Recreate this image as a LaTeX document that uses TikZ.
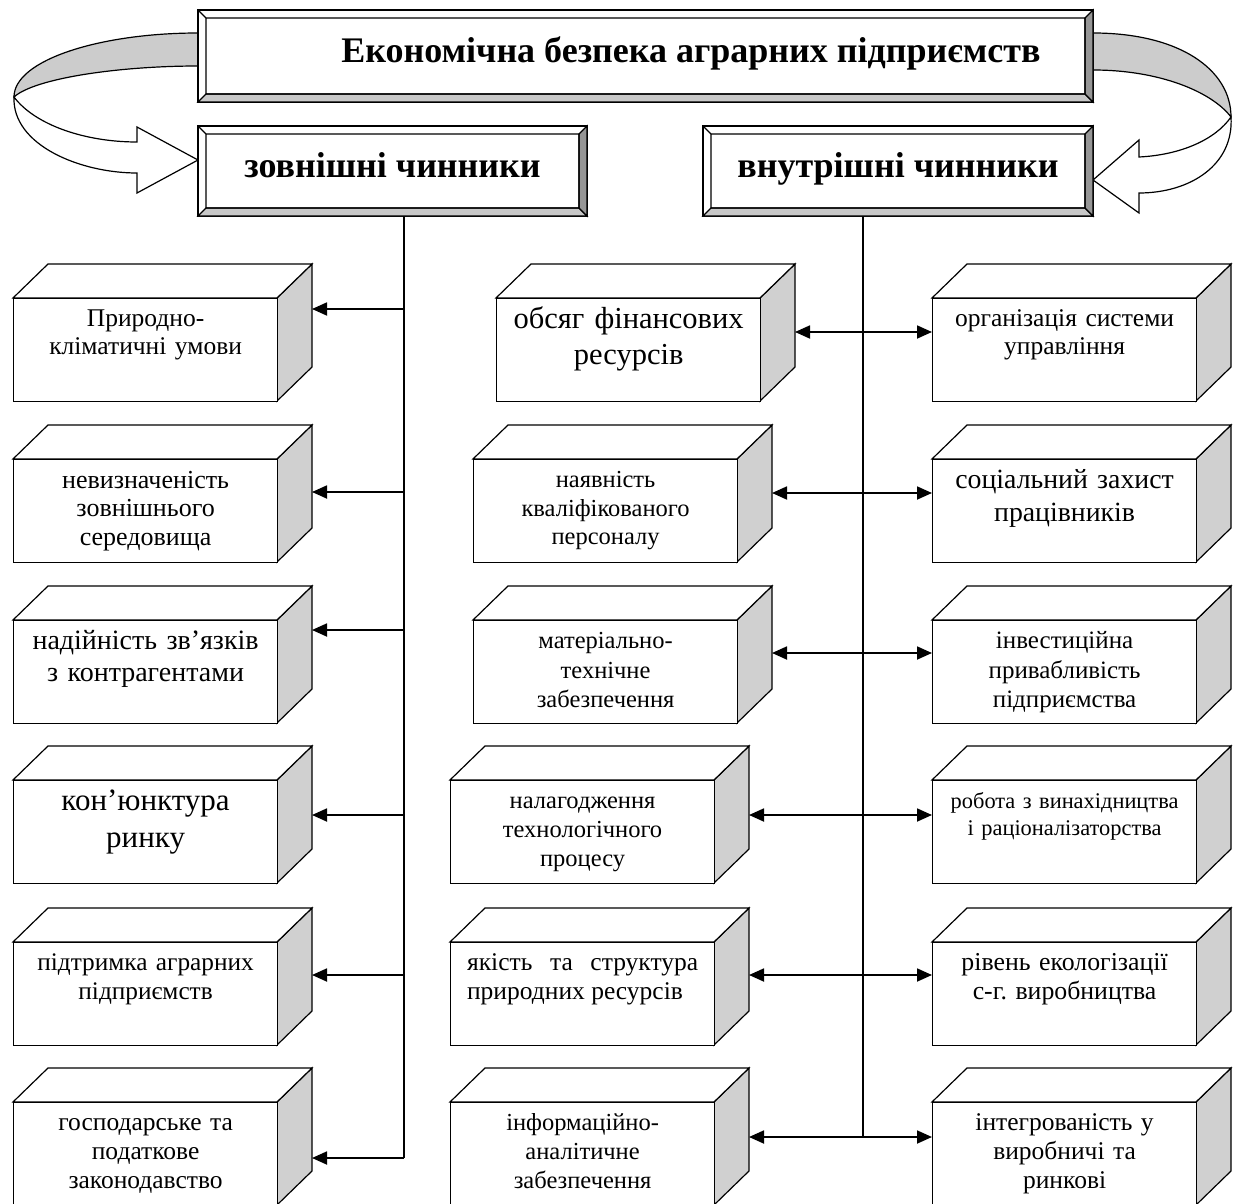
\documentclass[tikz,border=0pt]{standalone}
\usepackage{fontspec}
\setmainfont{Liberation Serif}
\usetikzlibrary{positioning,arrows.meta,calc}
\definecolor{facegray}{RGB}{208,208,208}
\definecolor{bevellight}{RGB}{200,200,200}
\definecolor{beveldark}{RGB}{150,150,150}
\definecolor{ribbongray}{RGB}{204,204,204}
\frenchspacing

\tikzset{
  frame/.style={draw=black,fill=white,line width=1.2pt},
  boxtext/.style={inner sep=0pt,text width=256pt,align=center},
  headtext/.style={font=\bfseries\fontsize{36}{40}\selectfont,anchor=base},
  trunk/.style={line width=1.5pt},
  arr/.style={line width=1.8pt,-{Triangle[length=15pt,width=13pt]}},
  darr/.style={line width=1.8pt,{Triangle[length=15pt,width=13pt]}-{Triangle[length=15pt,width=13pt]}}
}

% bevelled frame: name, x1, y1, x2, y2
\newcommand{\bevelbox}[5]{%
  \filldraw[frame] (#2,#3) rectangle (#4,#5);
  \filldraw[frame,fill=bevellight] (#2,#5) -- (#2+8,#5-8) -- (#4-8,#5-8) -- (#4,#5) -- cycle;
  \filldraw[frame,fill=beveldark] (#4,#3) -- (#4-8,#3+8) -- (#4-8,#5-8) -- (#4,#5) -- cycle;
  \draw[frame,fill=none] (#2,#3) -- (#2+8,#3+8) rectangle (#4-8,#5-8);
  \node[inner sep=0pt,minimum width={#4-#2},minimum height={#5-#3}] (#1) at ({(#2+#4)/2},{(#3+#5)/2}) {};
}

% cuboid: [text style] name, x, y (front top), size, leading, text
\newcommand{\cuboid}[7][]{%
  \filldraw[frame,fill=facegray] (#3+264,#4) -- ++(35,-34) -- ++(0,103) -- ++(-35,34) -- cycle;
  \filldraw[frame] (#3,#4) -- ++(35,-34) -- ++(264,0) -- ++(-35,34) -- cycle;
  \node[frame,anchor=north west,minimum width=264pt,minimum height=103pt,inner sep=0pt] (#2) at (#3,#4) {};
  \node[boxtext,font=\fontsize{#5}{#6}\selectfont,anchor=base,#1] (#2-t) at ($(#2.north)+(0,{22+0.27*#5})$) {#7};
  \coordinate (#2-e) at (#3+299,#4);
  \coordinate (#2-w) at (#3,#4);
}

\begin{document}
\begin{tikzpicture}[x=1pt,y=-1pt]
  \useasboundingbox (0,0) rectangle (1240,1204);

  % ribbon arrows
  \filldraw[frame,fill=ribbongray] (198,33) .. controls (100,33) and (14,60) .. (14,97)
    .. controls (35,78) and (120,66) .. (198,66) -- cycle;
  \filldraw[frame] (14,97) .. controls (12,145) and (80,173) .. (137,173) -- (137,193) -- (198,160)
    -- (137,127) -- (137,142) .. controls (85,142) and (35,125) .. (14,97) -- cycle;
  \filldraw[frame,fill=ribbongray] (1093,33) .. controls (1180,33) and (1231,70) .. (1231,117)
    .. controls (1212,92) and (1160,70) .. (1093,70) -- cycle;
  \filldraw[frame] (1231,117) .. controls (1234,165) and (1190,193) .. (1139,193) -- (1139,213) -- (1093,180)
    -- (1139,140) -- (1139,157) .. controls (1180,155) and (1215,140) .. (1231,117) -- cycle;

  \bevelbox{title}{198}{10}{1093}{102}
  \bevelbox{zov}{198}{126}{587}{216}
  \bevelbox{vnu}{703}{126}{1093}{216}
  \node[headtext] (titletext) at (691,63) {Економічна безпека аграрних підприємств};
  \node[headtext] (zovtext) at (zov |- 0,178) {зовнішні чинники};
  \node[headtext] (vnutext) at (vnu |- 0,178) {внутрішні чинники};

  % external factors
  \cuboid{l1}{13}{298}{25.5}{28}{Природно-\\кліматичні умови}
  \cuboid{l2}{13}{459}{26}{28.5}{невизначеність\\зовнішнього\\середовища}
  \cuboid{l3}{13}{620}{28}{32}{надійність зв’язків\\з контрагентами}
  \cuboid{l4}{13}{780}{31}{37}{кон’юнктура\\ринку}
  \cuboid{l5}{13}{942}{25.3}{29}{підтримка аграрних\\підприємств}
  \cuboid{l6}{13}{1102}{25.5}{29}{господарське та\\податкове\\законодавство}

  % internal factors
  \cuboid{m1}{496}{298}{30.5}{36}{обсяг фінансових\\ресурсів}
  \cuboid{m2}{473}{459}{24.5}{28.5}{наявність\\кваліфікованого\\персоналу}
  \cuboid{m3}{473}{620}{24.5}{29.5}{матеріально-\\технічне\\забезпечення}
  \cuboid{m4}{450}{780}{24.5}{29}{налагодження\\технологічного\\процесу}
  \cuboid[text width=231pt,align=justify]{m5}{450}{942}{25.5}{29}{якість та структура\linebreak природних ресурсів}
  \cuboid{m6}{450}{1102}{24.5}{29}{інформаційно-\\аналітичне\\забезпечення}

  \cuboid{r1}{932}{298}{25.5}{28}{організація системи\\управління}
  \cuboid{r2}{932}{459}{27.8}{33}{соціальний захист\\працівників}
  \cuboid{r3}{932}{620}{25}{29.5}{інвестиційна\\привабливість\\підприємства}
  \cuboid{r4}{932}{780}{22.4}{27}{робота з винахідництва\\і раціоналізаторства}
  \cuboid{r5}{932}{942}{25.8}{29}{рівень екологізації\\с-г. виробництва}
  \cuboid{r6}{932}{1102}{25.5}{29}{інтегрованість у\\виробничі та\\ринкові}

  % trunks and arrows
  \coordinate (trunkL) at (404,1158);
  \coordinate (trunkR) at (863,1137);
  \draw[trunk] (zov.south -| trunkL) -- (trunkL);
  \draw[trunk] (vnu.south -| trunkR) -- (trunkR);
  \foreach \n/\y in {1/309,2/492,3/630,4/815,5/975,6/1158}
    \draw[arr] (trunkL |- 0,\y) -- (l\n-e |- 0,\y);
  \foreach \n/\y in {1/332,2/493,3/653,4/815,5/975,6/1137}
    \draw[darr] (m\n-e |- 0,\y) -- (r\n-w |- 0,\y);
\end{tikzpicture}
\end{document}
